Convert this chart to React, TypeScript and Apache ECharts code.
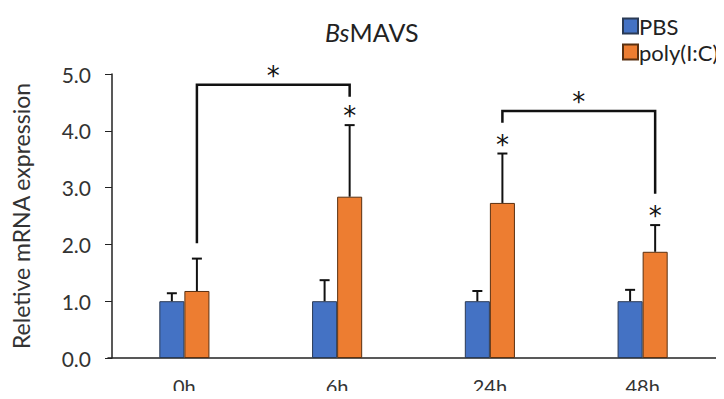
import React, { useEffect, useRef } from "react";
import * as echarts from "echarts";

const categories = ["0h", "6h", "24h", "48h"];
const seriesNames = ["PBS", "poly(I:C)"];
const pbsValues = [1.0, 1.0, 1.0, 1.0];
const pbsErrors = [0.14, 0.37, 0.18, 0.2];
const polyValues = [1.18, 2.84, 2.73, 1.87];
const polyErrors = [0.57, 1.26, 0.87, 0.47];
// stars drawn above poly(I:C) error bars
const polyStars = [false, true, true, true];
// [fromCategory, toCategory, leftBottom, top, rightBottom]
const brackets = [
  [0, 1, 2.02, 4.81, 4.6],
  [2, 3, 4.14, 4.35, 2.89],
];

const BAR_FRAC = 0.164;
const FONT = "Lato, 'Open Sans', sans-serif";
const STAR_FONT = "'DejaVu Sans', sans-serif";

export default function App() {
  const ref = useRef<HTMLDivElement>(null);
  useEffect(() => {
    if (!ref.current) return;
    const chart = echarts.init(ref.current, undefined, { renderer: "svg" });

    const starStyle = {
      text: "*",
      fontSize: 26,
      fontFamily: STAR_FONT,
      fill: "#111",
      align: "center",
      verticalAlign: "middle",
    };

    const errRender = (side: number) => (params: any, api: any) => {
      const idx = api.value(0);
      const v = api.value(1);
      const e = api.value(2);
      const band = api.size([1, 0])[0];
      const dx = (side * band * BAR_FRAC) / 2;
      const base = api.coord([idx, v]);
      const top = api.coord([idx, v + e]);
      const x = base[0] + dx;
      const style = { stroke: "#111", lineWidth: 2 };
      return {
        type: "group",
        children: [
          { type: "line", shape: { x1: x, y1: base[1], x2: x, y2: top[1] }, style },
          { type: "line", shape: { x1: x - 5, y1: top[1], x2: x + 5, y2: top[1] }, style },
        ],
      };
    };

    const starRender = (params: any, api: any) => {
      const idx = api.value(0);
      const v = api.value(1);
      const band = api.size([1, 0])[0];
      const dx = (band * BAR_FRAC) / 2;
      const p = api.coord([idx, v]);
      return {
        type: "text",
        x: p[0] + dx,
        y: p[1] - 9,
        style: starStyle,
      };
    };

    const bracketRender = (params: any, api: any) => {
      const i0 = api.value(0);
      const i1 = api.value(1);
      const yl = api.value(2);
      const yt = api.value(3);
      const yr = api.value(4);
      const band = api.size([1, 0])[0];
      const dx = (band * BAR_FRAC) / 2;
      const a = api.coord([i0, yl]);
      const t = api.coord([i0, yt]);
      const b = api.coord([i1, yr]);
      const xl = a[0] + dx;
      const xr = b[0] + dx;
      return {
        type: "group",
        children: [
          {
            type: "polyline",
            shape: { points: [[xl, a[1]], [xl, t[1]], [xr, t[1]], [xr, b[1]]] },
            style: { stroke: "#111", lineWidth: 2.5, fill: null },
          },
          {
            type: "text",
            x: (xl + xr) / 2,
            y: t[1] - 9,
            style: starStyle,
          },
        ],
      };
    };

    chart.setOption({
      animation: false,
      backgroundColor: "#fff",
      title: {
        text: "{i|Bs}{n|MAVS}",
        left: 320,
        top: 14,
        textStyle: {
          rich: {
            i: { fontSize: 25, fontStyle: "italic", fontWeight: "normal", fontFamily: FONT, color: "#222" },
            n: { fontSize: 25, fontWeight: "normal", fontFamily: FONT, color: "#222" },
          },
        },
      },
      legend: {
        data: seriesNames,
        orient: "vertical",
        left: 617,
        top: 10,
        itemWidth: 15,
        itemHeight: 15,
        itemGap: 4,
        icon: "rect",
        textStyle: { fontSize: 22, fontFamily: FONT, color: "#222", padding: [0, 0, 0, -4] },
      },
      grid: { left: 108, right: 5, top: 74, bottom: 41 },
      xAxis: {
        type: "category",
        data: categories,
        axisTick: { show: false },
        axisLine: { lineStyle: { color: "#222", width: 1.5 } },
        axisLabel: { fontSize: 20, fontFamily: FONT, color: "#333", margin: 18 },
      },
      yAxis: {
        type: "value",
        min: 0,
        max: 5,
        interval: 1,
        offset: -4,
        name: "Reletive mRNA expression",
        nameLocation: "middle",
        nameGap: 80,
        nameTextStyle: { fontSize: 23, fontFamily: FONT, color: "#333" },
        axisLine: { show: true, lineStyle: { color: "#222", width: 1.5 } },
        axisTick: { show: true, length: 7, lineStyle: { color: "#222" } },
        splitLine: { show: false },
        axisLabel: {
          fontSize: 21,
          fontFamily: FONT,
          color: "#333",
          margin: 21,
          formatter: (v: number) => v.toFixed(1),
        },
      },
      series: [
        {
          name: seriesNames[0],
          type: "bar",
          data: pbsValues,
          barWidth: BAR_FRAC * 100 + "%",
          barGap: "0%",
          itemStyle: { color: "#4472C4", borderColor: "#2a3a55", borderWidth: 1 },
        },
        {
          name: seriesNames[1],
          type: "bar",
          data: polyValues,
          barWidth: BAR_FRAC * 100 + "%",
          barGap: "0%",
          itemStyle: { color: "#ED7D31", borderColor: "#5a3010", borderWidth: 1 },
        },
        {
          type: "custom",
          z: 3,
          renderItem: errRender(-1),
          data: pbsValues.map((v, i) => [i, v, pbsErrors[i]]),
        },
        {
          type: "custom",
          z: 3,
          renderItem: errRender(1),
          data: polyValues.map((v, i) => [i, v, polyErrors[i]]),
        },
        {
          type: "custom",
          z: 4,
          renderItem: starRender,
          data: polyValues
            .map((v, i) => [i, v + polyErrors[i], polyStars[i] ? 1 : 0])
            .filter((d) => d[2] === 1),
        },
        {
          type: "custom",
          z: 4,
          renderItem: bracketRender,
          data: brackets,
        },
      ],
    });
    return () => chart.dispose();
  }, []);
  return <div ref={ref} style={{ width: 724, height: 399, margin: -8 }} />;
}
